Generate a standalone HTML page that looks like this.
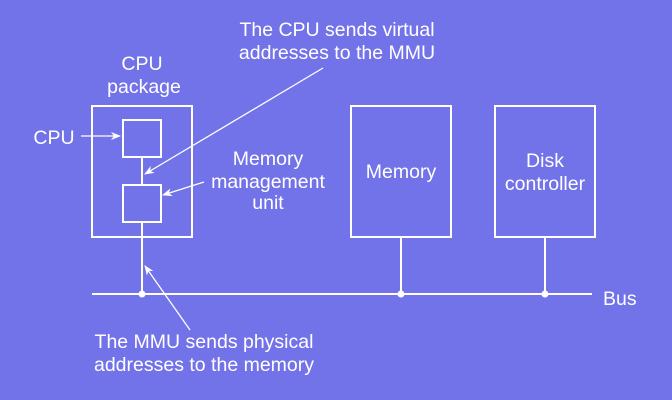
<!DOCTYPE html>
<html><head><style>
html,body{margin:0;padding:0;background:#7373e9;}
svg{display:block}
text{font-family:"Liberation Sans",Arial,sans-serif;font-size:19.5px;fill:#fff}
</style></head><body>
<svg width="672" height="400" viewBox="0 0 672 400">
<defs><marker id="a" markerWidth="10" markerHeight="8" refX="9" refY="4" orient="auto" markerUnits="userSpaceOnUse"><path d="M0,0 L10,4 L0,8 L3,4z" fill="#fff"/></marker></defs>
<g fill="none" stroke="#fff" stroke-width="2">
<rect x="92" y="106" width="100" height="131"/>
<rect x="123" y="120" width="38" height="37"/>
<rect x="123" y="185" width="38" height="37"/>
<line x1="142" y1="157" x2="142" y2="185"/>
<line x1="142" y1="222" x2="142" y2="294"/>
<rect x="351" y="106" width="100" height="131"/>
<rect x="495" y="106" width="100" height="131"/>
<line x1="401" y1="237" x2="401" y2="294"/>
<line x1="545" y1="237" x2="545" y2="294"/>
<line x1="92" y1="294" x2="592" y2="294"/>
</g>
<g stroke="#fff" stroke-width="1.3" fill="none">
<line x1="81" y1="136" x2="120" y2="136" marker-end="url(#a)"/>
<line x1="204" y1="182" x2="163" y2="195" marker-end="url(#a)"/>
<line x1="323" y1="68" x2="145" y2="174" marker-end="url(#a)"/>
<line x1="190" y1="330" x2="145" y2="266" marker-end="url(#a)"/>
</g>
<g fill="#fff"><circle cx="142" cy="294" r="3.5"/><circle cx="401" cy="294" r="3.5"/><circle cx="545" cy="294" r="3.5"/></g>
<g text-anchor="middle">
<text x="337" y="36">The CPU sends virtual</text>
<text x="337" y="59">addresses to the MMU</text>
<text x="142" y="70">CPU</text>
<text x="144" y="93">package</text>
<text x="54" y="144">CPU</text>
<text x="268" y="165">Memory</text>
<text x="268" y="188">management</text>
<text x="268" y="209">unit</text>
<text x="401" y="178">Memory</text>
<text x="545" y="167">Disk</text>
<text x="545" y="190">controller</text>
<text x="204" y="348">The MMU sends physical</text>
<text x="204" y="371">addresses to the memory</text>
</g>
<text x="603" y="305">Bus</text>
</svg>
</body></html>
